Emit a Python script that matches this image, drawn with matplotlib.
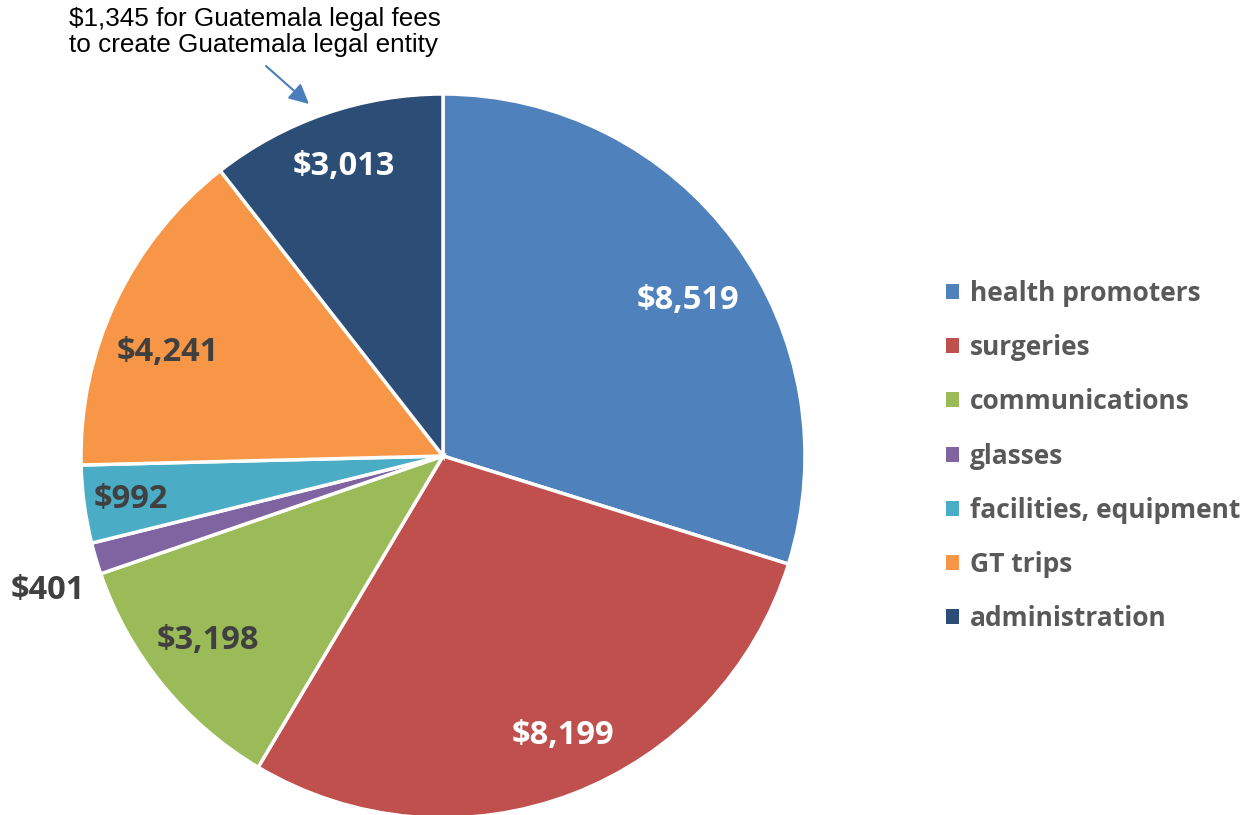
import matplotlib
matplotlib.use("Agg")
import matplotlib.pyplot as plt
import numpy as np

categories = ["health promoters", "surgeries", "communications", "glasses",
              "facilities, equipment", "GT trips", "administration"]
values = [8519, 8199, 3198, 401, 992, 4241, 3013]
value_labels = ["$8,519", "$8,199", "$3,198", "$401", "$992", "$4,241", "$3,013"]
colors = ["#4F81BD", "#C0504D", "#9BBB59", "#8064A2", "#4BACC6", "#F79646", "#2C4D75"]
label_colors = ["white", "white", "#404040", "#404040", "#404040", "#404040", "white"]
annotation = "$1,345 for Guatemala legal fees\nto create Guatemala legal entity"

# label placement (radius fraction, angular shift in degrees)
label_radius = [0.808, 0.829, 0.82, 1.15, 0.87, 0.815, 0.855]
label_shift = [-3.2, 2.6, -1.6, 1.8, -0.4, 4.0, -0.2]

W, H = 1249, 815
fig = plt.figure(figsize=(W / 100, H / 100), dpi=100)
cx, cy, R = 443, 456, 362
ax = fig.add_axes([(cx - R) / W, (H - cy - R) / H, 2 * R / W, 2 * R / H])
wedges, _ = ax.pie(values, colors=colors, startangle=90, counterclock=False,
                   radius=1.0, wedgeprops=dict(edgecolor="white", linewidth=2.5))
ax.set_xlim(-1, 1)
ax.set_ylim(-1, 1)
ax.set_aspect("equal")
ax.axis("off")

for w, lab, col, r, s in zip(wedges, value_labels, label_colors, label_radius, label_shift):
    ang = np.deg2rad((w.theta1 + w.theta2) / 2 + s)
    ax.text(r * np.cos(ang), r * np.sin(ang), lab, ha="center", va="center_baseline",
            color=col, fontsize=23.5, fontweight="bold", family="Open Sans")

fig.text(69 / W, 1 - 7 / H, annotation, ha="left", va="top", fontsize=18.8,
         family="Liberation Sans", color="black", linespacing=1.12)
fig.add_artist(matplotlib.patches.FancyArrowPatch(
    (266 / W, 1 - 66 / H), (309 / W, 1 - 104 / H), transform=fig.transFigure,
    arrowstyle="-|>,head_length=12,head_width=6", color="#4A7EBB", lw=1.5,
    shrinkA=0, shrinkB=0))

leg = fig.legend(wedges, categories, loc="center left",
                 bbox_to_anchor=(946 / W, 1 - 456 / H), frameon=False,
                 borderaxespad=0, borderpad=0,
                 handlelength=0.5, handleheight=0.5, handletextpad=0.42,
                 labelspacing=1.03, prop=dict(family="Open Sans", weight="bold", size=19))
for t in leg.get_texts():
    t.set_color("#595959")
for h in leg.legend_handles:
    h.set_edgecolor("none")

fig.savefig("out.png", dpi=100)
